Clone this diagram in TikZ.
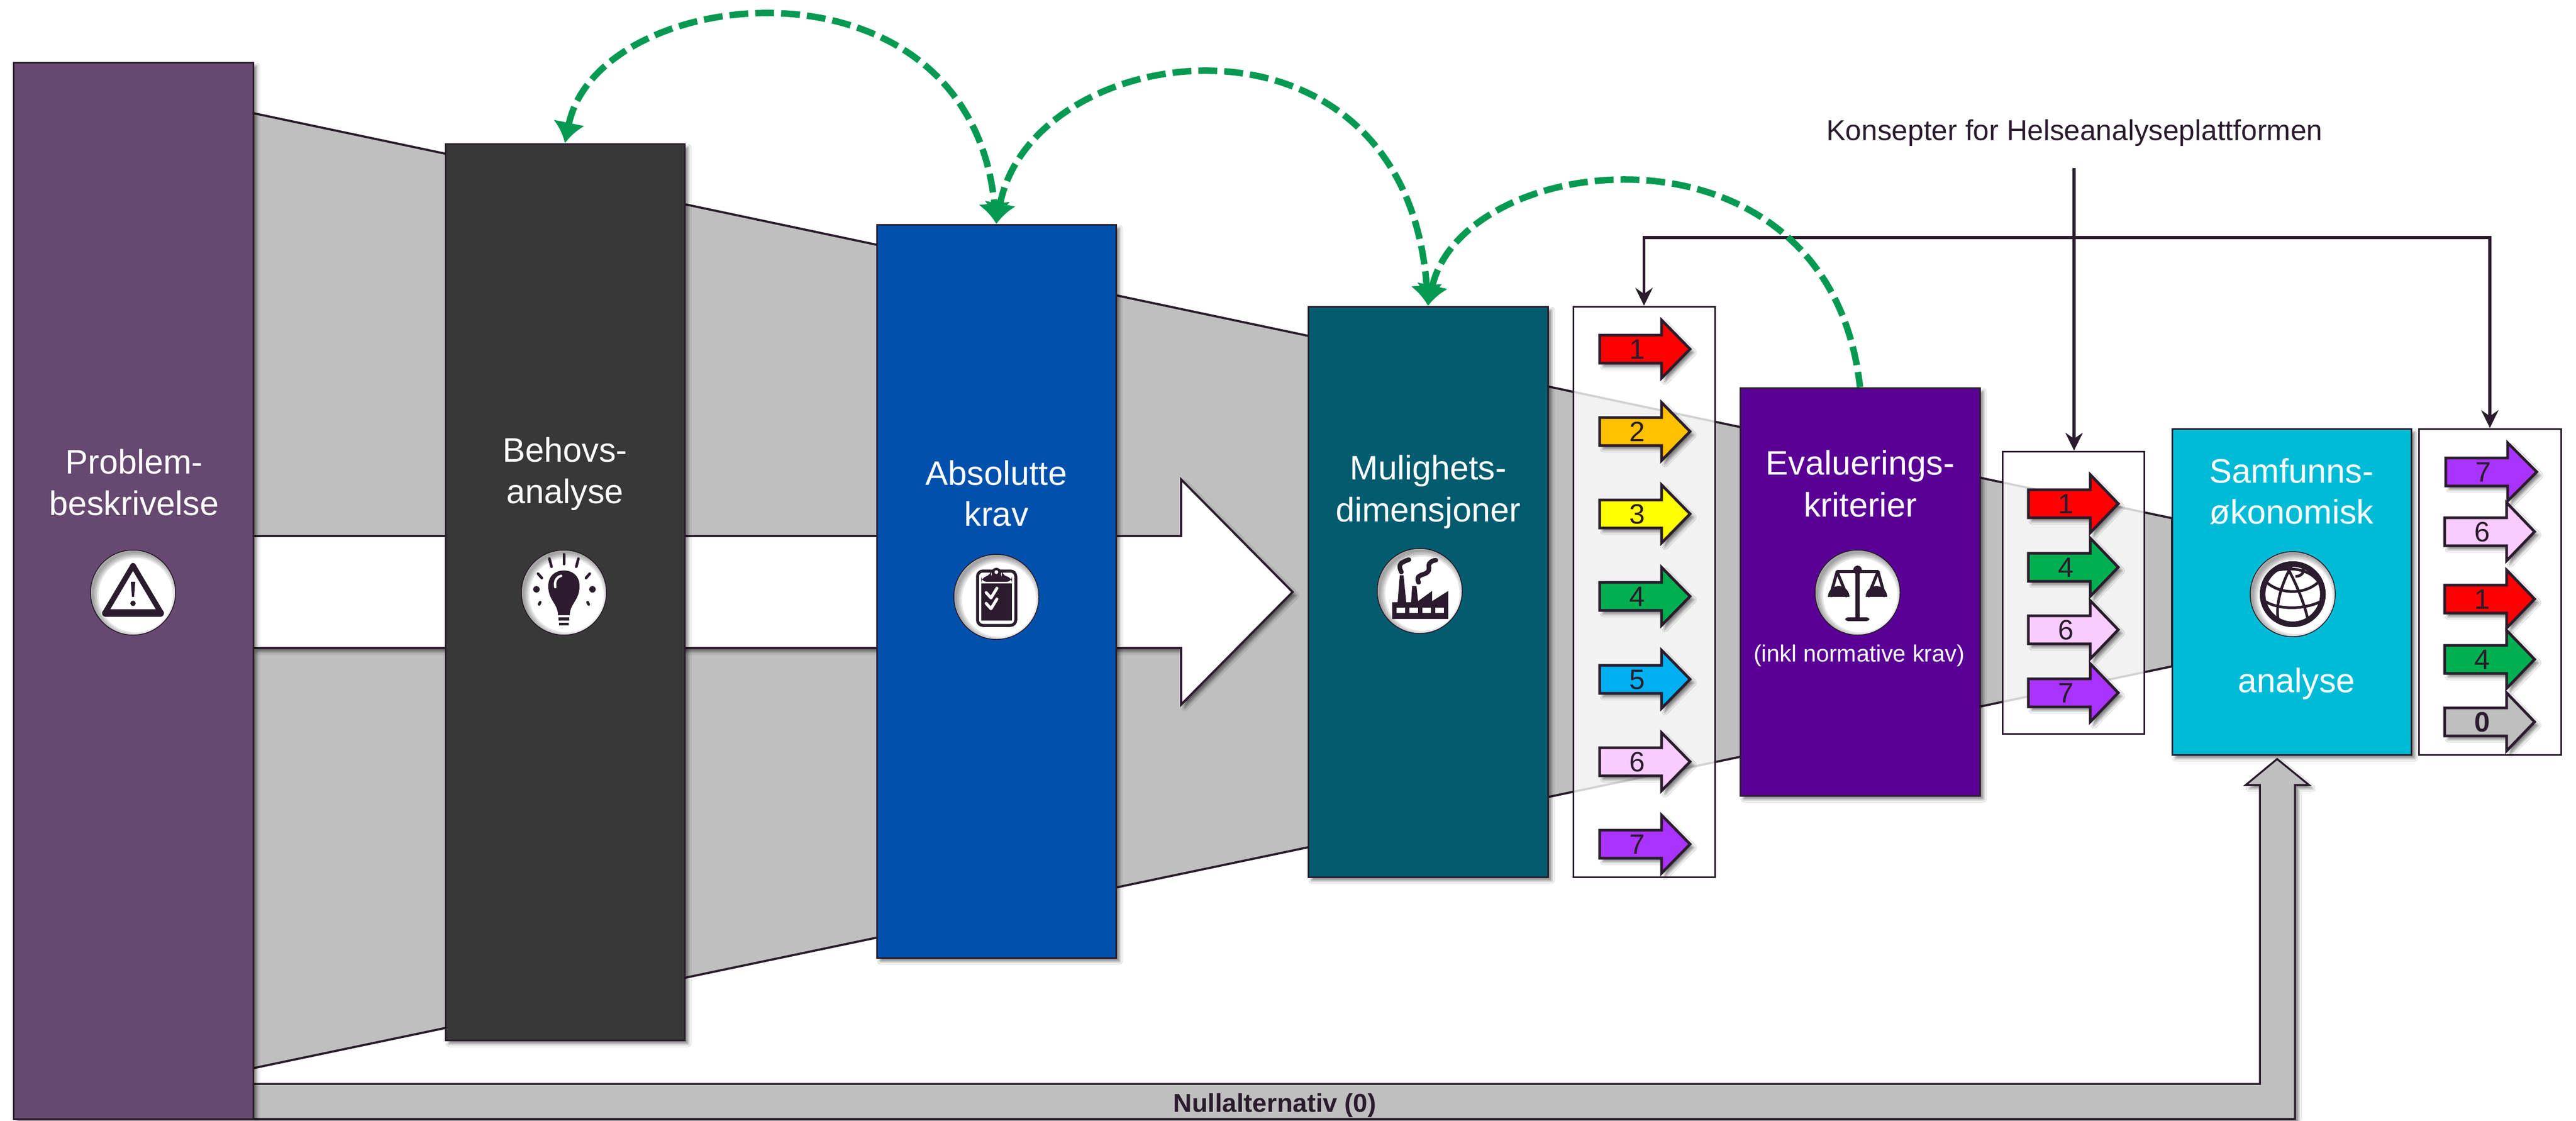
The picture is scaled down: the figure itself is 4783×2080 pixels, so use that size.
\documentclass[tikz,border=0pt]{standalone}
\usepackage{fontspec}
\setmainfont{Liberation Sans}
\usetikzlibrary{shadows.blur,arrows.meta,calc}
\definecolor{ink}{HTML}{2A1C2C}
\definecolor{cprob}{HTML}{674870}
\definecolor{cbeh}{HTML}{383838}
\definecolor{cabs}{HTML}{0050AC}
\definecolor{cmul}{HTML}{025B6E}
\definecolor{ceva}{HTML}{590095}
\definecolor{csam}{HTML}{00BBD6}
\definecolor{cgrey}{HTML}{BFBFBF}
\definecolor{cgreen}{HTML}{069951}
\definecolor{aone}{HTML}{FF0000}
\definecolor{atwo}{HTML}{FFC000}
\definecolor{athree}{HTML}{FFFF00}
\definecolor{afour}{HTML}{00B050}
\definecolor{afive}{HTML}{00B0F0}
\definecolor{asix}{HTML}{F9CCFF}
\definecolor{aseven}{HTML}{AA33FF}
\tikzset{
  softshadow/.style={blur shadow={shadow xshift=1.3pt,shadow yshift=-1.3pt,shadow blur radius=1.1pt,shadow opacity=50,shadow blur steps=6,shadow blur extra rounding=0pt}},
  stage/.style={rectangle,draw=ink,line width=0.6pt,inner sep=0pt,softshadow},
  optbox/.style={rectangle,draw=ink,line width=0.6pt,fill=white,fill opacity=0.8,inner sep=0pt},
  big/.style={text=white,anchor=base,inner sep=0pt,font=\fontsize{12.6}{15}\selectfont},
  small/.style={text=white,anchor=base,inner sep=0pt,font=\fontsize{8.7}{11}\selectfont},
  num/.style={text=ink,anchor=base,inner sep=0pt,font=\fontsize{10.4}{12}\selectfont},
  mini/.style={draw=ink,line width=1pt,line join=miter,softshadow},
  greenline/.style={draw=cgreen,line width=2.4pt,dash pattern=on 7pt off 2.6pt},
  blackline/.style={draw=ink,line width=1.1pt},
}
\newcommand{\rbox}[7]{\node[#7,minimum width={(#4-#2)*0.2pt},minimum height={(#5-#3)*0.2pt},fill=#6] (#1) at ({(#2+#4)/2},{(#3+#5)/2}) {};}
\newcommand{\oarrow}[7]{\path[mini,fill=#6] (#2,#5-26) -- (#3,#5-26) -- (#3,#5-54) -- (#4,#5) -- (#3,#5+54) -- (#3,#5+26) -- (#2,#5+26) -- cycle;
  \node[num] (#1) at ({(#2+#3)/2+12},#5+18) {#7};}
\newcommand{\iconbg}[3]{\node[circle,draw=ink,line width=0.3pt,fill=white,minimum size=31.6pt,inner sep=0pt] (#1) at (#2,#3) {};
  \begin{scope}
    \clip (#2,#3) circle [radius=15.8pt];
    \foreach \wid in {1.2,2.4,3.6,4.8}{\draw[black,opacity=0.10,line width=\wid pt] (#2+5,#3+5) circle [radius=16.2pt];}
  \end{scope}}
\begin{document}
\begin{tikzpicture}[x=0.2pt,y=-0.2pt]
\useasboundingbox (0,0) rectangle (4783,2080);
\fill[white] (0,0) rectangle (4783,2080);
% funnel
\path[draw=ink,line width=0.8pt,fill=cgrey] (470,210) -- (4033,962) -- (4033,1237) -- (470,1983) -- cycle;
% white arrow
\path[draw=ink,line width=0.8pt,fill=white,softshadow] (470,995) -- (2193,995) -- (2193,890) -- (2400,1099) -- (2193,1308) -- (2193,1203) -- (470,1203) -- cycle;
% null arrow
\path[draw=ink,line width=0.7pt,fill=cgrey,softshadow] (470,2012) -- (4196,2012) -- (4196,1457) -- (4170,1457) -- (4228,1409) -- (4287,1457) -- (4261,1457) -- (4261,2077) -- (470,2077) -- cycle;
\node[anchor=base,text=ink,inner sep=0pt,font=\bfseries\fontsize{9.6}{11}\selectfont] (nulltext) at (2367,2064) {Nullalternativ (0)};
% stages
\rbox{prob}{25}{116}{470}{2077}{cprob}{stage}
\rbox{beh}{827}{267}{1271}{1931}{cbeh}{stage}
\rbox{abs}{1628}{417}{2072}{1778}{cabs}{stage}
\rbox{mul}{2429}{569}{2874}{1628}{cmul}{stage}
\rbox{eva}{3231}{720}{3676}{1477}{ceva}{stage}
\rbox{sam}{4033}{796}{4477}{1401}{csam}{stage}
% option boxes
\rbox{boxa}{2921}{569}{3184}{1628}{white}{optbox}
\rbox{boxb}{3718}{838}{3981}{1362}{white}{optbox}
\node[rectangle,draw=ink,line width=0.6pt,fill=white,inner sep=0pt,minimum width={264*0.2pt},minimum height={605*0.2pt}] (boxc) at (4623,1098.5) {};
% stage labels
\node[big] (t1) at (249,879) {Problem-};
\node[big] (t2) at (249,956) {beskrivelse};
\node[big] (t3) at (1049,857) {Behovs-};
\node[big] (t4) at (1049,934) {analyse};
\node[big] (t5) at (1850,900) {Absolutte};
\node[big] (t6) at (1850,976) {krav};
\node[big] (t7) at (2652,890) {Mulighets-};
\node[big] (t8) at (2652,968) {dimensjoner};
\node[big] (t9) at (3454,881) {Evaluerings-};
\node[big] (t10) at (3454,959) {kriterier};
\node[small] (t11) at (3452,1228) {(inkl normative krav)};
\node[big] (t12) at (4255,896) {Samfunns-};
\node[big] (t13) at (4255,972) {økonomisk};
\node[big] (t14) at (4264,1285) {analyse};
% icon: warning
\iconbg{icona}{247}{1100}
\draw[ink,line width=2pt,line join=round] (247,1050) -- (196,1136) -- (298,1136) -- cycle;
\draw[ink,line width=2.6pt,line cap=round] (196,1138) -- (298,1138);
\fill[ink] (243,1080) -- (251,1080) -- (249,1108) -- (245,1108) -- cycle;
\fill[ink] (247,1120) circle [radius=5];
% icon: bulb
\iconbg{iconb}{1047}{1100}
\fill[ink] (1036,1142) .. controls (1036,1120) and (1018,1115) .. (1018,1088) .. controls (1018,1068) and (1032,1059) .. (1047,1059) .. controls (1062,1059) and (1076,1068) .. (1076,1088) .. controls (1076,1115) and (1058,1120) .. (1058,1142) -- cycle;
\draw[white,line width=0.9pt,line cap=round] (1031,1090) .. controls (1029,1078) and (1034,1071) .. (1042,1069);
\fill[ink] (1037,1146) rectangle (1057,1152);
\fill[ink] (1038,1156) rectangle (1056,1161);
\foreach \ax/\ay/\bx/\by in {1047/1029/1047/1047,1020/1037/1024/1052,1074/1037/1070/1052,999/1065/1006/1073,1095/1065/1088/1073,1003/1118/1001/1122,1091/1118/1093/1122}{
  \draw[ink,line width=1pt,line cap=round] (\ax,\ay) -- (\bx,\by);}
\fill[ink] (996,1094) circle [radius=6];
\fill[ink] (1100,1094) circle [radius=6];
% icon: clipboard
\iconbg{iconc}{1850}{1108}
\draw[ink,line width=1.1pt,fill=white,rounded corners=2pt] (1815,1060) rectangle (1886,1161);
\fill[ink] (1822,1083) rectangle (1879,1152);
\fill[ink,rounded corners=2pt] (1822,1080) -- (1822,1072) -- (1840,1068) -- (1840,1062) -- (1860,1062) -- (1860,1068) -- (1879,1072) -- (1879,1080) -- cycle;
\fill[ink] (1850,1063) circle [radius=9];
\fill[white] (1850,1062) circle [radius=3.5];
\draw[white,line width=1.1pt,line cap=round,line join=round] (1831,1100) -- (1840,1110) -- (1851,1092);
\draw[white,line width=1.1pt,line cap=round,line join=round] (1831,1120) -- (1840,1130) -- (1851,1112);
% icon: factory
\iconbg{icond}{2636}{1097}
\fill[ink] (2585,1149) -- (2585,1118) -- (2595,1118) -- (2599,1068) -- (2606,1068) -- (2611,1118) -- (2620,1118) -- (2622,1088) -- (2630,1088) -- (2633,1116) -- (2659,1097) -- (2659,1116) -- (2689,1097) -- (2689,1149) -- cycle;
\foreach \wx in {2593,2617,2641,2665}{\fill[white] (\wx,1128) rectangle (\wx+16,1138);}
\draw[ink,line width=1.7pt,line cap=round] (2602,1062) .. controls (2596,1050) and (2600,1045) .. (2606,1043) .. controls (2610,1041) and (2612,1040) .. (2616,1039);
\draw[ink,line width=1.7pt,line cap=round] (2634,1081) .. controls (2628,1068) and (2640,1068) .. (2648,1064) .. controls (2658,1058) and (2650,1050) .. (2654,1046) .. controls (2657,1042) and (2662,1040) .. (2666,1040);
% icon: scales
\iconbg{icone}{3449}{1100}
\draw[ink,line width=1.6pt] (3449,1056) -- (3449,1150);
\draw[ink,line width=1.1pt] (3411,1061) -- (3487,1061);
\fill[ink,rounded corners=1pt] (3426,1146) rectangle (3471,1153);
\fill[ink] (3449,1058) circle [radius=8];
\draw[ink,line width=1.1pt,line join=round] (3398,1108) -- (3411,1061) -- (3430,1108);
\draw[ink,line width=1.1pt,line join=round] (3468,1108) -- (3487,1061) -- (3500,1108);
\fill[ink] (3394,1108) arc [start angle=180,end angle=360,radius=20] -- cycle;
\fill[ink] (3464,1108) arc [start angle=180,end angle=360,radius=20] -- cycle;
% icon: globe
\iconbg{iconf}{4257}{1103}
\draw[ink,line width=2.1pt] (4257,1103) circle [radius=56];
\draw[ink,line width=1pt] (4207,1080) .. controls (4235,1105) and (4285,1105) .. (4310,1075);
\draw[ink,line width=1pt] (4203,1115) .. controls (4235,1135) and (4285,1130) .. (4312,1115);
\draw[ink,line width=1pt] (4222,1060) .. controls (4260,1050) and (4295,1060) .. (4308,1085);
\draw[ink,line width=1pt] (4255,1050) .. controls (4235,1085) and (4225,1125) .. (4230,1150);
\draw[ink,line width=1pt] (4245,1050) .. controls (4265,1085) and (4280,1125) .. (4285,1150);
\draw[ink,line width=1pt] (4262,1070) .. controls (4280,1070) and (4282,1050) .. (4268,1050);
% option arrows, first box
\oarrow{n1}{2970}{3085}{3138}{648}{aone}{1}
\oarrow{n2}{2970}{3085}{3138}{801}{atwo}{2}
\oarrow{n3}{2970}{3085}{3138}{954}{athree}{3}
\oarrow{n4}{2970}{3085}{3138}{1107}{afour}{4}
\oarrow{n5}{2970}{3085}{3138}{1261}{afive}{5}
\oarrow{n6}{2970}{3085}{3138}{1414}{asix}{6}
\oarrow{n7}{2970}{3085}{3138}{1567}{aseven}{7}
% second box
\oarrow{m1}{3766}{3881}{3933}{935}{aone}{1}
\oarrow{m4}{3766}{3881}{3933}{1053}{afour}{4}
\oarrow{m6}{3766}{3881}{3933}{1169}{asix}{6}
\oarrow{m7}{3766}{3881}{3933}{1286}{aseven}{7}
% third box
\oarrow{k7}{4541}{4656}{4710}{876}{aseven}{7}
\oarrow{k6}{4539}{4654}{4706}{987}{asix}{6}
\oarrow{k1}{4539}{4654}{4706}{1112}{aone}{1}
\oarrow{k4}{4539}{4654}{4706}{1224}{afour}{4}
\oarrow{k0}{4539}{4654}{4706}{1340}{cgrey}{\textbf{0}}
% concept label and black connectors
\node[anchor=base,text=ink,inner sep=0pt,font=\fontsize{10.66}{13}\selectfont] (konsept) at (3852,260) {Konsepter for Helseanalyseplattformen};
\coordinate (kstart) at (3851,312);
\coordinate (hbar) at (3851,441);
\draw[blackline,-{Stealth[length=6.6pt,width=6.4pt,inset=2.2pt,ink]}] (kstart) -- (kstart |- boxb.north);
\draw[blackline,{Stealth[length=6.6pt,width=6.4pt,inset=2.2pt,ink]}-{Stealth[length=6.6pt,width=6.4pt,inset=2.2pt,ink]},line join=miter] (boxa.north) -- (boxa.north |- hbar) -- (boxc.north |- hbar) -- (boxc.north);
% green connectors
\draw[greenline,{Latex[length=7.6pt,width=12pt,cgreen]}-{Latex[length=7.6pt,width=12pt,cgreen]}] (beh.north) .. controls (1110,-34) and (1800,-104) .. (abs.north);
\draw[greenline,{Latex[length=7.6pt,width=12pt,cgreen]}-{Latex[length=7.6pt,width=12pt,cgreen]}] (abs.north) .. controls (1915,66) and (2610,-20) .. (mul.north);
\draw[greenline,{Latex[length=7.6pt,width=12pt,cgreen]}-] (mul.north) .. controls (2715,275) and (3396,200) .. (eva.north);
\end{tikzpicture}
\end{document}
